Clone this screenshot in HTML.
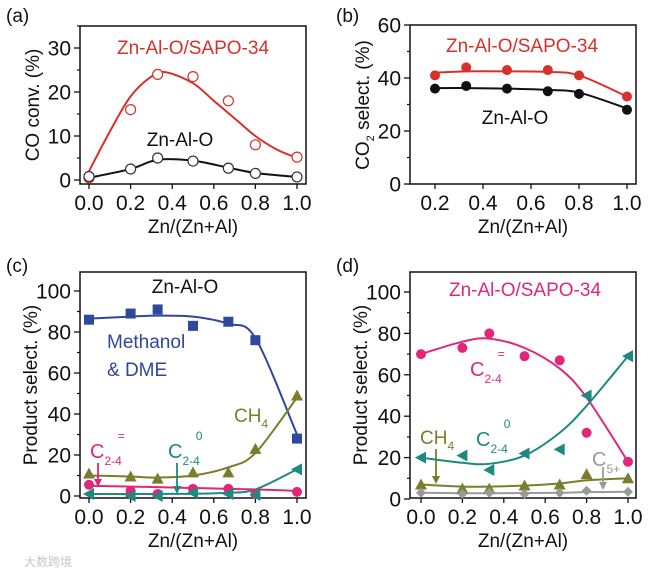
<!DOCTYPE html>
<html><head><meta charset="utf-8"><style>
body{margin:0;background:#fff}
svg{display:block;font-family:"Liberation Sans",Arial,sans-serif}
</style></head><body>
<svg id="fig" width="660" height="574" viewBox="0 0 660 574"></svg>
<script>
const X = [0, 0.2, 0.33, 0.5, 0.67, 0.8, 1.0];
const XB = [0.2, 0.33, 0.5, 0.67, 0.8, 1.0];
// Panel a
const aRed = [0.5, 16, 24, 23.5, 18, 8, 5.2];
const aBlack = [0.8, 2.5, 5, 4.3, 2.7, 1.5, 0.7];
const aRedFitX = [0, 0.1, 0.2, 0.3, 0.37, 0.5, 0.6, 0.7, 0.8, 0.9, 1.0];
const aRedFit = [2, 11, 19, 23.5, 24.5, 22, 18, 14, 10, 7, 5];
const aBlackFit = [0.5, 2.5, 4.6, 4.4, 2.8, 1.6, 0.7];
// Panel b
const bRed = [41, 44, 43, 43, 41, 33];
const bBlack = [36, 37, 36, 35, 34, 28];
const bRedFit = [42, 42.5, 42.5, 42.3, 41, 33];
const bBlackFit = [36.2, 36.2, 36, 35.5, 34.5, 28.5];
// Panel c
const cMeth = [86, 89, 91, 83, 85, 76, 28];
const cMethFit = [86.5, 87.5, 88, 87.5, 84, 77, 30];
const cCH4 = [11, 9.5, 8.5, 11.5, 11.5, 23, 49];
const cCH4Fit = [10, 9.5, 9, 10, 14, 21, 48];
const cOle = [5.5, 2.5, 1, 3.5, 3.5, 1, 2];
const cOleFit = [5, 4.6, 4.3, 3.9, 3.5, 3.2, 2.5];
const cPar = [1, 0, 0, 1.5, 1, 0.5, 13];
const cParFit = [1, 1, 1, 1.1, 1.6, 3.2, 13];
// Panel d
const dOle = [70, 73, 80, 69, 67, 32, 18];
const dOleFit = [70, 76, 77.5, 73, 63, 49, 18];
const dPar = [20, 21, 14, 22, 24, 50, 69];
const dParFit = [20, 17.5, 17, 21, 32, 45, 69];
const dCH4 = [7, 5, 5, 6.5, 7, 12, 10];
const dCH4Fit = [7, 6, 6, 6.5, 7.5, 9, 10];
const dC5 = [3, 2.5, 3, 2.5, 3, 4, 3.5];
const dC5Fit = [3, 2.8, 2.8, 2.9, 3, 3.3, 3.5];

const NS = "http://www.w3.org/2000/svg";
const svg = document.getElementById('fig');
function mk(tag, at, parent) {
  const e = document.createElementNS(NS, tag);
  for (const k in at) e.setAttribute(k, at[k]);
  (parent || svg).appendChild(e);
  return e;
}
function txt(s, x, y, size, fill, anchor, name) {
  const t = mk('text', {x: x, y: y, 'font-size': size, fill: fill, 'text-anchor': anchor || 'start'});
  t.textContent = s;
  
  
  return t;
}
function scale(d0, d1, r0, r1) { return v => r0 + (v - d0) / (d1 - d0) * (r1 - r0); }
function curvePath(xs, ys, sx, sy) {
  const p = xs.map((x, i) => [sx(x), sy(ys[i])]);
  let d = 'M' + p[0][0] + ',' + p[0][1];
  for (let i = 0; i < p.length - 1; i++) {
    const p0 = p[i - 1] || p[i], p1 = p[i], p2 = p[i + 1], p3 = p[i + 2] || p[i + 1];
    const c1 = [p1[0] + (p2[0] - p0[0]) / 6, p1[1] + (p2[1] - p0[1]) / 6];
    const c2 = [p2[0] - (p3[0] - p1[0]) / 6, p2[1] - (p3[1] - p1[1]) / 6];
    d += ' C' + c1 + ' ' + c2 + ' ' + p2;
  }
  return d;
}
function frame(box, sx, sy, xt, yt, yMinor, name) {
  const g = mk('g', {});
  
  
  mk('rect', {x: box[0], y: box[1], width: box[2] - box[0], height: box[3] - box[1], fill: 'none', stroke: '#111', 'stroke-width': 1.5}, g);
  xt.forEach(v => {
    mk('line', {x1: sx(v), x2: sx(v), y1: box[3], y2: box[3] + 5, stroke: '#111', 'stroke-width': 1.3}, g);
    txt(v.toFixed(1), sx(v), box[3] + 26, 21, '#111', 'middle', name + '-x-tick-label');
  });
  yt.forEach(v => {
    mk('line', {x1: box[0] - 6, x2: box[0], y1: sy(v), y2: sy(v), stroke: '#111', 'stroke-width': 1.3}, g);
    txt(String(v), box[0] - 9, sy(v) + 7.5, 21, '#111', 'end', name + '-y-tick-label');
  });
  yMinor.forEach(v => {
    mk('line', {x1: box[0] - 3, x2: box[0], y1: sy(v), y2: sy(v), stroke: '#111', 'stroke-width': 1.2}, g);
  });
  txt('Zn/(Zn+Al)', (box[0] + box[2]) / 2, box[3] + 49, 19, '#111', 'middle', name + '-x-axis-title');
}
function ytitle(s, x, y, name, sub) {
  const t = mk('text', {x: 0, y: 0, 'font-size': 19, fill: '#111', 'text-anchor': 'middle', transform: 'translate(' + x + ',' + y + ') rotate(-90)'});
  
  
  if (sub) {
    const a = mk('tspan', {}, t); a.textContent = 'CO';
    const b = mk('tspan', {'font-size': 11, dy: 5}, t); b.textContent = '2';
    const c = mk('tspan', {dy: -5}, t); c.textContent = ' select. (%)';
  } else t.textContent = s;
}
function line(xs, ys, sx, sy, color, name) {
  const p = mk('path', {d: curvePath(xs, ys, sx, sy), fill: 'none', stroke: color, 'stroke-width': 2});
  
  
  return p;
}
function marks(xs, ys, sx, sy, shape, color, name, open) {
  xs.forEach((x, i) => {
    const cx = sx(x), cy = sy(ys[i]);
    let e;
    const fill = open ? '#fff' : color;
    const st = open ? color : 'none';
    if (shape === 'circle') e = mk('circle', {cx: cx, cy: cy, r: 5, fill: fill, stroke: st, 'stroke-width': 1.2});
    else if (shape === 'square') e = mk('rect', {x: cx - 5, y: cy - 5, width: 10, height: 10, fill: color});
    else if (shape === 'tri') e = mk('polygon', {points: [cx, cy - 6, cx - 6, cy + 5, cx + 6, cy + 5].join(','), fill: color});
    else if (shape === 'ltri') e = mk('polygon', {points: [cx - 6, cy, cx + 5, cy - 6, cx + 5, cy + 6].join(','), fill: color});
    else if (shape === 'diamond') e = mk('polygon', {points: [cx, cy - 5, cx + 5, cy, cx, cy + 5, cx - 5, cy].join(','), fill: color});
    
    
  });
}
function arrow(x, y1, y2, color, name) {
  const g = mk('g', {});
  
  
  mk('line', {x1: x, x2: x, y1: y1, y2: y2 - 6, stroke: color, 'stroke-width': 1.8}, g);
  mk('polygon', {points: [x - 4, y2 - 8, x + 4, y2 - 8, x, y2].join(','), fill: color}, g);
}
function cLabel(x, y, color, sup, name, sub) {
  const t = mk('text', {x: x, y: y, 'font-size': 20, fill: color});
  
  
  const a = mk('tspan', {}, t); a.textContent = 'C';
  const b = mk('tspan', {'font-size': 12, dy: 7}, t); b.textContent = sub || '2-4';
  if (sup) { const c = mk('tspan', {'font-size': 12, dy: -25, dx: -4}, t); c.textContent = sup; }
}
function ch4(x, y, color, name) {
  const t = mk('text', {x: x, y: y, 'font-size': 19, fill: color});
  
  
  const a = mk('tspan', {}, t); a.textContent = 'CH';
  const b = mk('tspan', {'font-size': 12, dy: 6}, t); b.textContent = '4';
}
const RED = '#d8302a', PINK = '#e0277a', BLUE = '#2f479c', OLIVE = '#7a7d2c', TEAL = '#1b8a80', GRAY = '#9a9a9a';

// ---- Panel a
{
  const sx = scale(0, 1, 89, 297), sy = scale(0, 30, 180, 48);
  frame([80, 26, 306, 184], sx, sy, [0, 0.2, 0.4, 0.6, 0.8, 1.0], [0, 10, 20, 30], [5, 15, 25, 35], 'panel-a');
  txt('(a)', 6, 22, 19, '#111', 'start', 'panel-a-letter');
  ytitle('CO conv. (%)', 39, 105, 'panel-a-y-axis-title');
  line(aRedFitX, aRedFit, sx, sy, RED, 'panel-a-sapo-fit');
  line(X, aBlackFit, sx, sy, '#111', 'panel-a-znalo-line');
  marks(X, aRed, sx, sy, 'circle', RED, 'panel-a-sapo-point', true);
  marks(X, aBlack, sx, sy, 'circle', '#333', 'panel-a-znalo-point', true);
  txt('Zn-Al-O/SAPO-34', 193, 54, 19, RED, 'middle', 'panel-a-sapo-label');
  txt('Zn-Al-O', 180, 146, 19, '#111', 'middle', 'panel-a-znalo-label');
}
// ---- Panel b
{
  const sx = scale(0.2, 1, 435, 627), sy = scale(0, 60, 184, 25);
  frame([410, 25, 636, 184], sx, sy, [0.2, 0.4, 0.6, 0.8, 1.0], [0, 20, 40, 60], [10, 30, 50], 'panel-b');
  txt('(b)', 336, 22, 19, '#111', 'start', 'panel-b-letter');
  ytitle('', 369, 105, 'panel-b-y-axis-title', true);
  line(XB, bRedFit, sx, sy, RED, 'panel-b-sapo-fit');
  line(XB, bBlackFit, sx, sy, '#111', 'panel-b-znalo-fit');
  marks(XB, bRed, sx, sy, 'circle', RED, 'panel-b-sapo-point', false);
  marks(XB, bBlack, sx, sy, 'circle', '#111', 'panel-b-znalo-point', false);
  txt('Zn-Al-O/SAPO-34', 522, 52, 19, RED, 'middle', 'panel-b-sapo-label');
  txt('Zn-Al-O', 515, 124, 19, '#111', 'middle', 'panel-b-znalo-label');
}
// ---- Panel c
{
  const sx = scale(0, 1, 89, 297), sy = scale(0, 100, 496, 291);
  frame([80, 272, 306, 498], sx, sy, [0, 0.2, 0.4, 0.6, 0.8, 1.0], [0, 20, 40, 60, 80, 100], [10, 30, 50, 70, 90], 'panel-c');
  txt('(c)', 6, 272, 19, '#111', 'start', 'panel-c-letter');
  ytitle('Product select. (%)', 37, 385, 'panel-c-y-axis-title');
  line(X, cMethFit, sx, sy, BLUE, 'panel-c-methanol-fit');
  line(X, cCH4Fit, sx, sy, OLIVE, 'panel-c-ch4-fit');
  line(X, cOleFit, sx, sy, PINK, 'panel-c-olefin-fit');
  line(X, cParFit, sx, sy, TEAL, 'panel-c-paraffin-fit');
  marks(X, cMeth, sx, sy, 'square', BLUE, 'panel-c-methanol-point');
  marks(X, cCH4, sx, sy, 'tri', OLIVE, 'panel-c-ch4-point');
  marks(X, cOle, sx, sy, 'circle', PINK, 'panel-c-olefin-point');
  marks(X, cPar, sx, sy, 'ltri', TEAL, 'panel-c-paraffin-point');
  txt('Zn-Al-O', 185, 293, 19, '#111', 'middle', 'panel-c-title');
  txt('Methanol', 107, 348, 19, BLUE, 'start', 'panel-c-methanol-label');
  txt('& DME', 107, 376, 19, BLUE, 'start', 'panel-c-dme-label');
  ch4(234, 422, OLIVE, 'panel-c-ch4-label');
  cLabel(90, 458, PINK, '=', 'panel-c-olefin-label');
  cLabel(168, 458, TEAL, '0', 'panel-c-paraffin-label');
  arrow(98, 463, 487, PINK, 'panel-c-olefin-arrow');
  arrow(177, 463, 494, TEAL, 'panel-c-paraffin-arrow');
}
// ---- Panel d
{
  const sx = scale(0, 1, 421, 628), sy = scale(0, 100, 499, 292);
  frame([410, 272, 636, 498], sx, sy, [0, 0.2, 0.4, 0.6, 0.8, 1.0], [0, 20, 40, 60, 80, 100], [10, 30, 50, 70, 90], 'panel-d');
  txt('(d)', 336, 272, 19, '#111', 'start', 'panel-d-letter');
  ytitle('Product select. (%)', 367, 385, 'panel-d-y-axis-title');
  line(X, dOleFit, sx, sy, PINK, 'panel-d-olefin-fit');
  line(X, dParFit, sx, sy, TEAL, 'panel-d-paraffin-fit');
  line(X, dCH4Fit, sx, sy, OLIVE, 'panel-d-ch4-fit');
  line(X, dC5Fit, sx, sy, GRAY, 'panel-d-c5-fit');
  marks(X, dOle, sx, sy, 'circle', PINK, 'panel-d-olefin-point');
  marks(X, dPar, sx, sy, 'ltri', TEAL, 'panel-d-paraffin-point');
  marks(X, dCH4, sx, sy, 'tri', OLIVE, 'panel-d-ch4-point');
  marks(X, dC5, sx, sy, 'diamond', GRAY, 'panel-d-c5-point');
  txt('Zn-Al-O/SAPO-34', 525, 296, 19, PINK, 'middle', 'panel-d-title');
  cLabel(470, 376, PINK, '=', 'panel-d-olefin-label');
  cLabel(476, 446, TEAL, '0', 'panel-d-paraffin-label');
  ch4(420, 444, OLIVE, 'panel-d-ch4-label');
  cLabel(592, 466, GRAY, '', 'panel-d-c5-label', '5+');
  arrow(436, 449, 484, OLIVE, 'panel-d-ch4-arrow');
  arrow(603, 467, 490, GRAY, 'panel-d-c5-arrow');
}
const wm = txt('大数跨境', 24, 566, 12, '#c8c8c8', 'start', 'watermark');
wm.setAttribute('font-family', '"Liberation Sans","Noto Sans CJK SC",sans-serif');
</script>
</body></html>
